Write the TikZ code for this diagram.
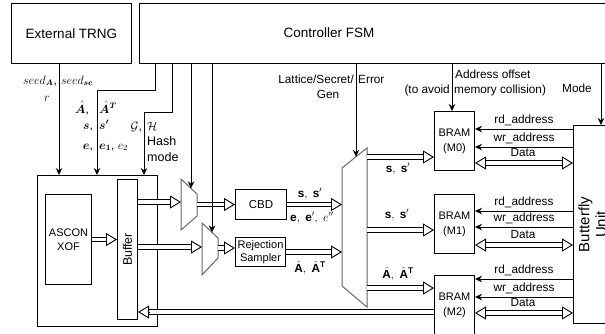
\documentclass[tikz,border=0pt]{standalone}
\usepackage{amsmath}
\usepackage{bm}
\usepackage{fontspec}
\setmainfont{Liberation Sans}
\usetikzlibrary{arrows.meta,positioning,calc}

\newcommand{\titlefont}{\fontsize{13.5}{16}\selectfont}
\newcommand{\lblfont}{\fontsize{11.8}{14}\selectfont}

% double-line bus with an open head
\newcommand{\bus}[2]{%
  \draw[busline] #1 -- ($#2!11pt!#1$);
  \draw[bushead] ($#2!11pt!#1$) -- #2;}
\newcommand{\busboth}[2]{%
  \draw[bushead] ($#1!11pt!#2$) -- #1;
  \draw[busline] ($#1!11pt!#2$) -- ($#2!11pt!#1$);
  \draw[bushead] ($#2!11pt!#1$) -- #2;}

\begin{document}
\begin{tikzpicture}[x=1pt, y=-1pt,
    box/.style={draw, line width=1pt, fill=white, inner sep=0pt, align=center, anchor=north west},
    ctrl/.style={-{Stealth[length=7pt,width=6.5pt]}, line width=1pt},
    busline/.style={double, double distance=3.5pt, line width=0.9pt},
    bushead/.style={-{Triangle[open,length=11pt,width=13pt]}, line width=0.9pt},
    muxshape/.style={draw=black!60, line width=1pt, fill=white},
    lbl/.style={font=\lblfont, inner sep=0pt}
]
    \useasboundingbox (0,0) rectangle (605,333);
    \clip (0,0) rectangle (605,333);

    % Top blocks
    \node[box, minimum width=120pt, minimum height=60pt, font=\titlefont] (trng) at (11,3) {External TRNG};
    \node[box, minimum width=520pt, minimum height=60pt] (fsm) at (139,3) {};
    \node[font=\titlefont] (fsmlbl) at (329,33) {Controller FSM};

    % Hash core
    \node[box, minimum width=120pt, minimum height=151pt] (gen) at (37,175) {};
    \node[box, minimum width=46pt, minimum height=90pt, font=\fontsize{11}{14}\selectfont] (xof) at (45,194) {ASCON\\XOF};
    \node[box, minimum width=20pt, minimum height=140pt,
          label={[rotate=90, font=\fontsize{12.4}{14}\selectfont]center:Buffer}] (buf) at (117,179) {};

    % Samplers
    \node[box, minimum width=51pt, minimum height=30pt, font=\fontsize{11.5}{14}\selectfont] (cbd) at (235,189) {CBD};
    \node[box, minimum width=50pt, minimum height=29pt, font=\fontsize{11}{13}\selectfont] (rejs) at (235,237) {Rejection\\Sampler};

    % Memories
    \node[box, minimum width=40pt, minimum height=59pt, font=\fontsize{11}{15}\selectfont] (bram0) at (434,111) {BRAM\\(M0)};
    \node[box, minimum width=40pt, minimum height=59pt, font=\fontsize{11}{15}\selectfont, below=23pt of bram0] (bram1) {BRAM\\(M1)};
    \node[box, minimum width=40pt, minimum height=59pt, font=\fontsize{11}{15}\selectfont, below=21pt of bram1] (bram2) {BRAM\\(M2)};
    \node[box, minimum width=38pt, minimum height=198pt,
          label={[rotate=90, align=center, font=\fontsize{15}{17}\selectfont]center:Butterfly\\Unit}] (bfly) at (573,125) {};

    % Multiplexers
    \coordinate (m1a) at (181,179); \coordinate (m1b) at (197,194);
    \coordinate (m1c) at (197,216); \coordinate (m1d) at (181,230);
    \coordinate (m2a) at (202,223); \coordinate (m2b) at (218,238);
    \coordinate (m2c) at (218,258); \coordinate (m2d) at (202,275);
    \coordinate (bm1) at (342,168); \coordinate (bm2) at (367,148);
    \coordinate (bm3) at (367,307); \coordinate (bm4) at (342,286);
    \draw[muxshape] (m1a) -- (m1b) -- (m1c) -- (m1d) -- cycle;
    \draw[muxshape] (m2a) -- (m2b) -- (m2c) -- (m2d) -- cycle;
    \draw[muxshape] (bm1) -- (bm2) -- (bm3) -- (bm4) -- cycle;

    % Data buses
    \bus{(xof.east)}{(buf.west |- xof.east)}
    \bus{(buf.east |- 0,202)}{(m1a |- 0,202)}
    \bus{(buf.east |- 0,247)}{(m2a |- 0,247)}
    \bus{(m1b |- cbd.west)}{(cbd.west)}
    \bus{(m2b |- 0,248)}{(rejs.west |- 0,248)}
    \bus{(cbd.east)}{(bm1 |- cbd.east)}
    \bus{(rejs.east)}{(bm1 |- rejs.east)}
    \bus{(bm2 |- 0,157)}{(bram0.west |- 0,157)}
    \bus{(bm2 |- 0,230)}{(bram1.west |- 0,230)}
    \bus{(bm2 |- 0,288)}{(bram2.west |- 0,288)}
    \bus{(bram2.west |- 0,312)}{(buf.east |- 0,312)}
    \busboth{(bram0.east |- 0,163)}{(bfly.west |- 0,163)}
    \busboth{(bram1.east |- 0,245)}{(bfly.west |- 0,245)}
    \busboth{(bram2.east |- 0,313)}{(bfly.west |- 0,313)}

    % Address lines
    \draw[ctrl] (bfly.west |- 0,129) -- node[lbl, anchor=base, yshift=5.5pt] (rd0) {rd\_address} (bram0.east |- 0,129);
    \draw[ctrl] (bfly.west |- 0,147) -- node[lbl, anchor=base, yshift=5.5pt] (wr0) {wr\_address} (bram0.east |- 0,147);
    \draw[ctrl] (bfly.west |- 0,211) -- node[lbl, anchor=base, yshift=5.5pt] (rd1) {rd\_address} (bram1.east |- 0,211);
    \draw[ctrl] (bfly.west |- 0,227) -- node[lbl, anchor=base, yshift=5.5pt] (wr1) {wr\_address} (bram1.east |- 0,227);
    \draw[ctrl] (bfly.west |- 0,279) -- node[lbl, anchor=base, yshift=5.5pt] (rd2) {rd\_address} (bram2.east |- 0,279);
    \draw[ctrl] (bfly.west |- 0,297) -- node[lbl, anchor=base, yshift=5.5pt] (wr2) {wr\_address} (bram2.east |- 0,297);
    \node[lbl, anchor=base] (dat0) at (523,156.5) {Data};
    \node[lbl, anchor=base] (dat1) at (523,238.5) {Data};
    \node[lbl, anchor=base] (dat2) at (523,306.5) {Data};

    % Control lines
    \coordinate (m1x) at ($(m1a)!.625!(m1b)$);
    \coordinate (m2x) at ($(m2a)!.625!(m2b)$);
    \coordinate (bmx) at ($(bm1)!.56!(bm2)$);
    \draw[ctrl] (59,0 |- trng.south) -- (59,0 |- gen.north);
    \draw[ctrl] (155,0 |- fsm.south) |- (97,90) -- (97,0 |- gen.north);
    \draw[ctrl] (172,0 |- fsm.south) |- (144,112) -- (144,0 |- gen.north);
    \draw[ctrl] (m1x |- fsm.south) -- (m1x);
    \draw[ctrl] (m2x |- fsm.south) -- (m2x);
    \draw[ctrl] (bmx |- fsm.south) -- (bmx);
    \draw[ctrl] (452,0 |- fsm.south) -- (452,0 |- bram0.north);
    \draw[ctrl] (601,0 |- fsm.south) -- (601,0 |- bfly.north);

    % Control labels
    \node[lbl, anchor=base east] (seeda) at (57,84) {$seed_{\bm{A}}$,};
    \node[lbl, anchor=base west] (seedse) at (61,84) {$seed_{\bm{se}}$};
    \node[lbl, anchor=base] (rnd) at (47,101) {$r$};
    \node[lbl, anchor=base east] (ahat) at (89,113) {$\bm{\hat{A}}$,};
    \node[lbl, anchor=base west] (ahatt) at (99,113) {$\bm{\hat{A}^T}$};
    \node[lbl, anchor=base east] (sv) at (93,129) {$\bm{s}$,};
    \node[lbl, anchor=base west] (svp) at (99,129) {$\bm{s'}$};
    \node[lbl, anchor=base east] (ev) at (93,149) {$\bm{e}$,};
    \node[lbl, anchor=base west] (evp) at (99,149) {$\bm{e_1}$,\ $e_2$};
    \node[lbl, anchor=base east] (hg) at (142,130) {$\mathcal{G}$,};
    \node[lbl, anchor=base west] (hh) at (147,130) {$\mathcal{H}$};
    \node[lbl, anchor=west, align=left, font=\fontsize{12.5}{16}\selectfont] (hmode) at (147,149) {Hash\\mode};
    \node[lbl, anchor=base east] (latt) at (354,83.5) {Lattice/Secret/};
    \node[lbl, anchor=base west] (err) at (358,83.5) {Error};
    \node[lbl, anchor=base] (gen2) at (328,98.5) {Gen};
    \node[lbl, anchor=base west] (aoff) at (455,78) {Address offset};
    \node[lbl, anchor=base east] (avoid) at (450,93) {(to avoid};
    \node[lbl, anchor=base west] (coll) at (454,93) {memory collision)};
    \node[lbl, anchor=base] (mode) at (577,92.3) {Mode};

    % Bus labels
    \node[lbl, anchor=base] (cbds) at (310,197) {$\mathbf{s},\ \mathbf{s}'$};
    \node[lbl, anchor=base] (cbde) at (312,221) {$\mathbf{e},\ \mathbf{e}',\ e''$};
    \node[lbl, anchor=base] (rsa) at (310,272) {$\hat{\mathbf{A}},\ \hat{\mathbf{A}}^{\mathbf{T}}$};
    \node[lbl, anchor=base] (out0) at (398,172) {$\mathbf{s},\ \mathbf{s}'$};
    \node[lbl, anchor=base] (out1) at (397,218) {$\mathbf{s},\ \mathbf{s}'$};
    \node[lbl, anchor=base] (out2) at (398,278) {$\hat{\mathbf{A}},\ \hat{\mathbf{A}}^{\mathbf{T}}$};

\end{tikzpicture}
\end{document}
